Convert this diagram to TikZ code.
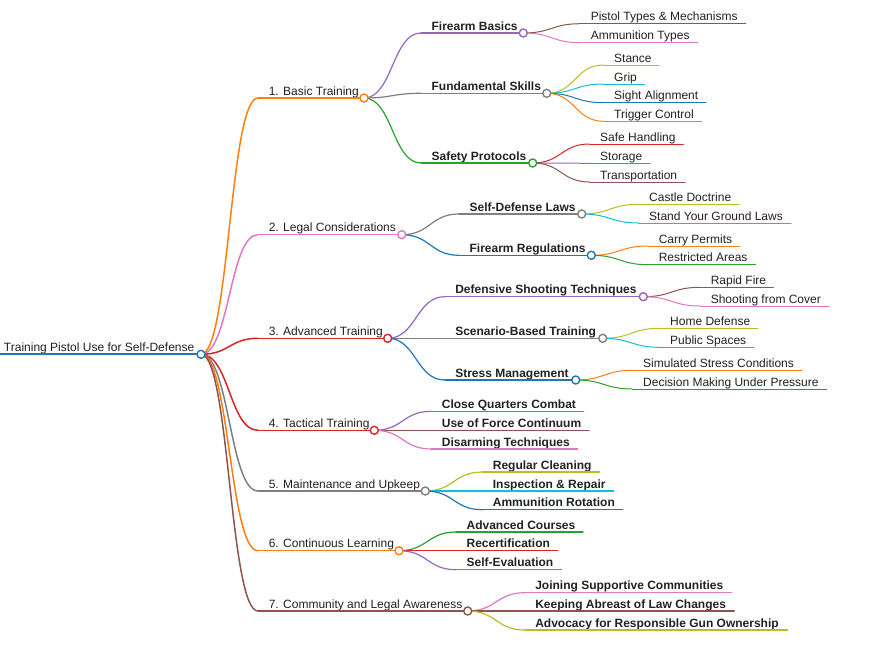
\documentclass[tikz,border=0pt]{standalone}
\usepackage{fontspec}
\setmainfont{Liberation Sans}
\usetikzlibrary{calc}

\definecolor{mmblue}{HTML}{1F77B4}
\definecolor{mmorange}{HTML}{FF7F0E}
\definecolor{mmgreen}{HTML}{2CA02C}
\definecolor{mmred}{HTML}{D62728}
\definecolor{mmpurple}{HTML}{9467BD}
\definecolor{mmbrown}{HTML}{8C564B}
\definecolor{mmpink}{HTML}{E377C2}
\definecolor{mmgray}{HTML}{7F7F7F}
\definecolor{mmolive}{HTML}{BCBD22}
\definecolor{mmcyan}{HTML}{17BECF}
\definecolor{mmtext}{HTML}{222222}

\tikzset{
  lbl/.style={anchor=base west, xshift=10pt, yshift=3pt, inner sep=0pt, text=mmtext},
  lv0/.style={line width=2pt},
  lv1/.style={line width=1.5pt},
  lv2/.style={line width=1.2pt, font=\fontsize{12}{14}\selectfont\bfseries},
  lv3/.style={line width=1pt},
  dot/.style={circle, fill=white, inner sep=0pt, minimum size=8pt, line width=1.4pt}
}

% name, level, colour, x start, y, x end, text
\newcommand{\mmitem}[7]{%
  \coordinate (#1-s) at (#4,#5);
  \coordinate (#1-e) at (#6,#5);
  \node[lbl,#2] (#1) at (#1-s) {#7};
  \draw[#2,draw=#3,line cap=round] (#1-s) -- (#1-e);
}
% level, colour, parent, child
\newcommand{\mmlink}[4]{%
  \draw[#1,draw=#2] let \p1=(#3-e), \p2=(#4-s) in
    (\p1) .. controls ({(\x1+\x2)/2},\y1) and ({(\x1+\x2)/2},\y2) .. (\p2);
}
% name, colour
\newcommand{\mmdot}[2]{\node[dot,draw=#2] (#1-c) at (#1-e) {};}

\begin{document}
\begin{tikzpicture}[x=1pt, y=-1pt, font=\fontsize{12}{14}\selectfont]
  \useasboundingbox (0,0) rectangle (881,645);
  \fill[white] (0,0) rectangle (881,645);

  % root and main branches
  \mmitem{root}{lv0}{mmblue}{-7}{354.3}{201}{Training Pistol Use for Self-Defense}
  \mmitem{b1}{lv1}{mmorange}{258}{98}{364}{1. Basic Training}
  \mmitem{b2}{lv1}{mmpink}{258}{234.7}{401.7}{2. Legal Considerations}
  \mmitem{b3}{lv1}{mmred}{258}{338.3}{387.7}{3. Advanced Training}
  \mmitem{b4}{lv1}{mmred}{258}{430.3}{374.3}{4. Tactical Training}
  \mmitem{b5}{lv1}{mmgray}{258}{491}{425.3}{5. Maintenance and Upkeep}
  \mmitem{b6}{lv1}{mmorange}{258}{550.7}{399}{6. Continuous Learning}
  \mmitem{b7}{lv1}{mmbrown}{258}{611}{467.7}{7. Community and Legal Awareness}

  % second level
  \mmitem{fb}{lv2}{mmpurple}{421}{33}{523.3}{Firearm Basics}
  \mmitem{fs}{lv2}{mmgray}{421}{93.3}{546.7}{Fundamental Skills}
  \mmitem{sp}{lv2}{mmgreen}{421}{163}{532.7}{Safety Protocols}
  \mmitem{sdl}{lv2}{mmgray}{459}{214}{581.7}{Self-Defense Laws}
  \mmitem{fr}{lv2}{mmblue}{459}{255.3}{591.3}{Firearm Regulations}
  \mmitem{dst}{lv2}{mmpurple}{444.7}{296.7}{643.3}{Defensive Shooting Techniques}
  \mmitem{sbt}{lv2}{mmgray}{444.7}{338.3}{602.7}{Scenario-Based Training}
  \mmitem{sm}{lv2}{mmblue}{444.7}{380}{575.7}{Stress Management}
  \mmitem{cqc}{lv2}{mmpurple}{431.3}{411.3}{583.7}{Close Quarters Combat}
  \mmitem{ufc}{lv2}{mmbrown}{431.3}{430.3}{589}{Use of Force Continuum}
  \mmitem{dt}{lv2}{mmpink}{431.3}{449}{577.7}{Disarming Techniques}
  \mmitem{rc}{lv2}{mmolive}{482.3}{472}{599.7}{Regular Cleaning}
  \mmitem{ir}{lv2}{mmcyan}{482.3}{491}{613.7}{Inspection \& Repair}
  \mmitem{ar}{lv2}{mmblue}{482.3}{509.7}{622.7}{Ammunition Rotation}
  \mmitem{ac}{lv2}{mmgreen}{456}{532}{583}{Advanced Courses}
  \mmitem{rcf}{lv2}{mmred}{456}{550.7}{558}{Recertification}
  \mmitem{se}{lv2}{mmpurple}{456}{569.7}{561.3}{Self-Evaluation}
  \mmitem{js}{lv2}{mmpink}{524.7}{592.7}{731.7}{Joining Supportive Communities}
  \mmitem{ka}{lv2}{mmbrown}{524.7}{611}{734.3}{Keeping Abreast of Law Changes}
  \mmitem{adv}{lv2}{mmolive}{524.7}{630}{787.7}{Advocacy for Responsible Gun Ownership}

  % third level
  \mmitem{pt}{lv3}{mmbrown}{580.3}{23.7}{745.7}{Pistol Types \& Mechanisms}
  \mmitem{at}{lv3}{mmpink}{580.3}{42.7}{697.7}{Ammunition Types}
  \mmitem{st}{lv3}{mmolive}{603.7}{65}{659}{Stance}
  \mmitem{gr}{lv3}{mmcyan}{603.7}{84}{644.7}{Grip}
  \mmitem{sa}{lv3}{mmblue}{603.7}{102.7}{706}{Sight Alignment}
  \mmitem{tc}{lv3}{mmorange}{603.7}{121.3}{701.7}{Trigger Control}
  \mmitem{sh}{lv3}{mmred}{589.7}{144}{683.3}{Safe Handling}
  \mmitem{sto}{lv3}{mmpurple}{589.7}{163.3}{650}{Storage}
  \mmitem{tr}{lv3}{mmbrown}{589.7}{182}{685}{Transportation}
  \mmitem{cd}{lv3}{mmolive}{638.7}{204.3}{739}{Castle Doctrine}
  \mmitem{syg}{lv3}{mmcyan}{638.7}{223}{791}{Stand Your Ground Laws}
  \mmitem{cp}{lv3}{mmorange}{648.3}{246}{739.7}{Carry Permits}
  \mmitem{ra}{lv3}{mmgreen}{648.3}{264.7}{755.7}{Restricted Areas}
  \mmitem{rf}{lv3}{mmbrown}{700.3}{287.3}{773.3}{Rapid Fire}
  \mmitem{sfc}{lv3}{mmpink}{700.3}{306}{829}{Shooting from Cover}
  \mmitem{hd}{lv3}{mmolive}{659.7}{328.3}{757.7}{Home Defense}
  \mmitem{ps}{lv3}{mmcyan}{659.7}{347.3}{754}{Public Spaces}
  \mmitem{ssc}{lv3}{mmorange}{632.7}{370.3}{801.7}{Simulated Stress Conditions}
  \mmitem{dm}{lv3}{mmgreen}{632.7}{389}{826.7}{Decision Making Under Pressure}

  % links
  \foreach \ch/\cl in {b1/mmorange, b2/mmpink, b3/mmred, b4/mmred,
                       b5/mmgray, b6/mmorange, b7/mmbrown}
    \mmlink{lv1}{\cl}{root}{\ch};
  \foreach \pa/\ch/\cl in {b1/fb/mmpurple, b1/fs/mmgray, b1/sp/mmgreen,
                          b2/sdl/mmgray, b2/fr/mmblue,
                          b3/dst/mmpurple, b3/sbt/mmgray, b3/sm/mmblue,
                          b4/cqc/mmpurple, b4/ufc/mmbrown, b4/dt/mmpink,
                          b5/rc/mmolive, b5/ir/mmcyan, b5/ar/mmblue,
                          b6/ac/mmgreen, b6/rcf/mmred, b6/se/mmpurple,
                          b7/js/mmpink, b7/ka/mmbrown, b7/adv/mmolive}
    \mmlink{lv2}{\cl}{\pa}{\ch};
  \foreach \pa/\ch/\cl in {fb/pt/mmbrown, fb/at/mmpink,
                          fs/st/mmolive, fs/gr/mmcyan, fs/sa/mmblue, fs/tc/mmorange,
                          sp/sh/mmred, sp/sto/mmpurple, sp/tr/mmbrown,
                          sdl/cd/mmolive, sdl/syg/mmcyan,
                          fr/cp/mmorange, fr/ra/mmgreen,
                          dst/rf/mmbrown, dst/sfc/mmpink,
                          sbt/hd/mmolive, sbt/ps/mmcyan,
                          sm/ssc/mmorange, sm/dm/mmgreen}
    \mmlink{lv3}{\cl}{\pa}{\ch};

  % circles on the inner nodes
  \foreach \n/\cl in {root/mmblue, b1/mmorange, b2/mmpink, b3/mmred, b4/mmred,
                       b5/mmgray, b6/mmorange, b7/mmbrown,
                       fb/mmpurple, fs/mmgray, sp/mmgreen, sdl/mmgray, fr/mmblue,
                       dst/mmpurple, sbt/mmgray, sm/mmblue}
    \mmdot{\n}{\cl};
\end{tikzpicture}
\end{document}
